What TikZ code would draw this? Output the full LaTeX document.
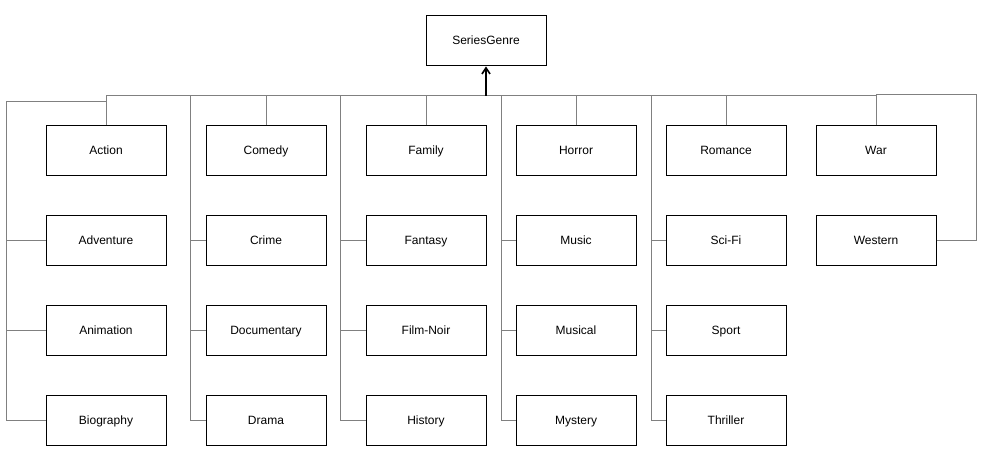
\documentclass[tikz,border=0pt]{standalone}
\usepackage{fontspec}
\setmainfont{Liberation Sans}
\usetikzlibrary{arrows.meta}
\begin{document}
\begin{tikzpicture}[x=0.75pt,y=-0.75pt,
  box/.style={draw=black,line width=0.75pt,fill=white,minimum width=90pt,minimum height=37.5pt,inner sep=0pt,text height=6.6pt,text depth=1.9pt,font=\fontsize{9pt}{11pt}\selectfont},
  edge/.style={draw=black!50,line width=0.75pt},
  arrowline/.style={draw=black,line width=1.5pt,-{Straight Barb[length=4.5pt,width=6pt,line width=1.2pt]}}]
\useasboundingbox (0,0) rectangle (997,473);
\node[box] (sg) at (486,41) {SeriesGenre};
% column 1
\node[box] (act) at (106,151) {Action};
\node[box] (adv) at (106,241) {Adventure};
\node[box] (ani) at (106,331) {Animation};
\node[box] (bio) at (106,421) {Biography};
% column 2
\node[box] (com) at (266,151) {Comedy};
\node[box] (cri) at (266,241) {Crime};
\node[box] (doc) at (266,331) {Documentary};
\node[box] (dra) at (266,421) {Drama};
% column 3
\node[box] (fam) at (426,151) {Family};
\node[box] (fan) at (426,241) {Fantasy};
\node[box] (fil) at (426,331) {Film-Noir};
\node[box] (his) at (426,421) {History};
% column 4
\node[box] (hor) at (576,151) {Horror};
\node[box] (mus) at (576,241) {Music};
\node[box] (mul) at (576,331) {Musical};
\node[box] (mys) at (576,421) {Mystery};
% column 5
\node[box] (rom) at (726,151) {Romance};
\node[box] (sci) at (726,241) {Sci-Fi};
\node[box] (spo) at (726,331) {Sport};
\node[box] (thr) at (726,421) {Thriller};
% column 6
\node[box] (war) at (876,151) {War};
\node[box] (wes) at (876,241) {Western};
% routing points
\coordinate (bus) at (486,96);
\coordinate (t1) at (6,102);
\coordinate (t1a) at (106,102);
\coordinate (t2) at (190,96);
\coordinate (t3) at (340,96);
\coordinate (t4) at (501,96);
\coordinate (t5) at (651,96);
\coordinate (w1) at (976,95);
\coordinate (w2) at (876,95);
% top connectors
\foreach \n in {act,com,fam,hor,rom,war} \draw[edge] (\n.north) |- (bus);
% column 1
\foreach \n in {adv,ani,bio} \draw[edge] (\n.west) -| (t1) -- (t1a) |- (bus);
% columns 2-5
\foreach \n in {cri,doc,dra} \draw[edge] (\n.west) -| (t2) -- (bus);
\foreach \n in {fan,fil,his} \draw[edge] (\n.west) -| (t3) -- (bus);
\foreach \n in {mus,mul,mys} \draw[edge] (\n.west) -| (t4) -- (bus);
\foreach \n in {sci,spo,thr} \draw[edge] (\n.west) -| (t5) -- (bus);
% western
\draw[edge] (wes.east) -| (w1) -- (w2) |- (bus);
% arrow
\draw[arrowline] (bus) -- (sg.south);
\end{tikzpicture}
\end{document}
